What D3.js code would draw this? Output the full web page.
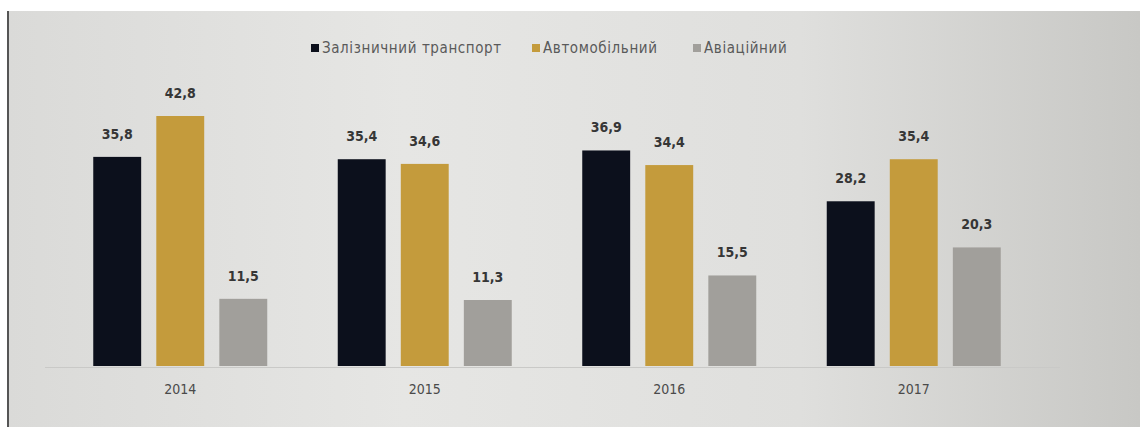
<!DOCTYPE html>
<html>
<head>
<meta charset="utf-8">
<script src="https://cdn.jsdelivr.net/npm/d3@7"></script>
<style>
  html, body { margin: 0; padding: 0; background: #ffffff; }
  svg { display: block; }
  text { font-family: "DejaVu Sans Condensed", "Roboto", sans-serif; }
</style>
</head>
<body>
<svg id="chart" width="1140" height="427"></svg>
<script>
// Passenger transport shares by year, %
const years = ["2014", "2015", "2016", "2017"];
const seriesNames = ["Залізничний транспорт", "Автомобільний", "Авіаційний"];
const rail = [35.8, 35.4, 36.9, 28.2];
const road = [42.8, 34.6, 34.4, 35.4];
const air = [11.5, 11.3, 15.5, 20.3];
const seriesValues = [rail, road, air];
const seriesColors = ["#0c101c", "#c49b3c", "#a19f9b"];

const W = 1140, H = 427;
const svg = d3.select("#chart");

// backdrop panel with soft light falloff
const defs = svg.append("defs");
const grad = defs.append("linearGradient").attr("id", "bg").attr("x1", "0").attr("x2", "1").attr("y1", "0").attr("y2", "0");
grad.append("stop").attr("offset", "0%").attr("stop-color", "#dadad8");
grad.append("stop").attr("offset", "35%").attr("stop-color", "#e6e6e4");
grad.append("stop").attr("offset", "70%").attr("stop-color", "#dfdfdd");
grad.append("stop").attr("offset", "100%").attr("stop-color", "#c8c8c5");

svg.append("rect").attr("x", 0).attr("y", 0).attr("width", W).attr("height", H).attr("fill", "#ffffff");
svg.append("rect").attr("x", 8).attr("y", 11).attr("width", W - 8).attr("height", H - 11).attr("fill", "url(#bg)");
svg.append("rect").attr("x", 7).attr("y", 11).attr("width", 2).attr("height", H - 11).attr("fill", "#555555");

// scales
const x0 = d3.scaleBand().domain(years).range([58, 1036]).padding(0);
const x1 = d3.scaleBand().domain(seriesNames).range([-87, 87]).paddingInner(0.24).paddingOuter(0);
const y = d3.scaleLinear().domain([0, 42.8]).range([366, 116]);

const fmt = v => d3.format(".1f")(v).replace(".", ",");

// baseline
svg.append("line")
  .attr("x1", 45).attr("x2", 1060)
  .attr("y1", y(0) + 1.5).attr("y2", y(0) + 1.5)
  .attr("stroke", "#c9c9c7").attr("stroke-width", 1);

// bars and value labels
const groups = svg.selectAll("g.year")
  .data(years)
  .join("g")
  .attr("class", "year")
  .attr("transform", d => `translate(${x0(d) + x0.bandwidth() / 2},0)`);

groups.each(function(yr, i) {
  const g = d3.select(this);
  const rows = seriesNames.map((name, s) => ({ name, value: seriesValues[s][i], color: seriesColors[s] }));
  g.selectAll("rect")
    .data(rows)
    .join("rect")
    .attr("x", d => x1(d.name))
    .attr("width", x1.bandwidth())
    .attr("y", d => y(d.value))
    .attr("height", d => y(0) - y(d.value))
    .attr("fill", d => d.color);
  g.selectAll("text.val")
    .data(rows)
    .join("text")
    .attr("class", "val")
    .attr("x", d => x1(d.name) + x1.bandwidth() / 2)
    .attr("y", d => y(d.value) - 18)
    .attr("text-anchor", "middle")
    .attr("font-size", 14)
    .attr("font-weight", "bold")
    .attr("fill", "#363636")
    .text(d => fmt(d.value));
});

// year axis labels
const xAxis = d3.axisBottom(x0).tickSize(0).tickPadding(0);
const axisG = svg.append("g").attr("transform", `translate(0,${y(0) + 28})`).call(xAxis);
axisG.select(".domain").remove();
axisG.selectAll("text")
  .attr("font-size", 14)
  .attr("fill", "#4a4a4a")
  .attr("dy", 0)
  .style("font-family", "'DejaVu Sans Condensed', sans-serif");

// legend
const legendX = [311, 532, 693];
const legend = svg.append("g").attr("class", "legend");
seriesNames.forEach((name, s) => {
  const lg = legend.append("g").attr("transform", `translate(${legendX[s]},48)`);
  lg.append("rect").attr("x", 0).attr("y", -4).attr("width", 8).attr("height", 8).attr("fill", seriesColors[s]);
  lg.append("text").attr("x", 11).attr("y", 5)
    .attr("font-size", 15).attr("letter-spacing", 0.6).attr("fill", "#5a5a5a")
    .text(name);
});
</script>
</body>
</html>
